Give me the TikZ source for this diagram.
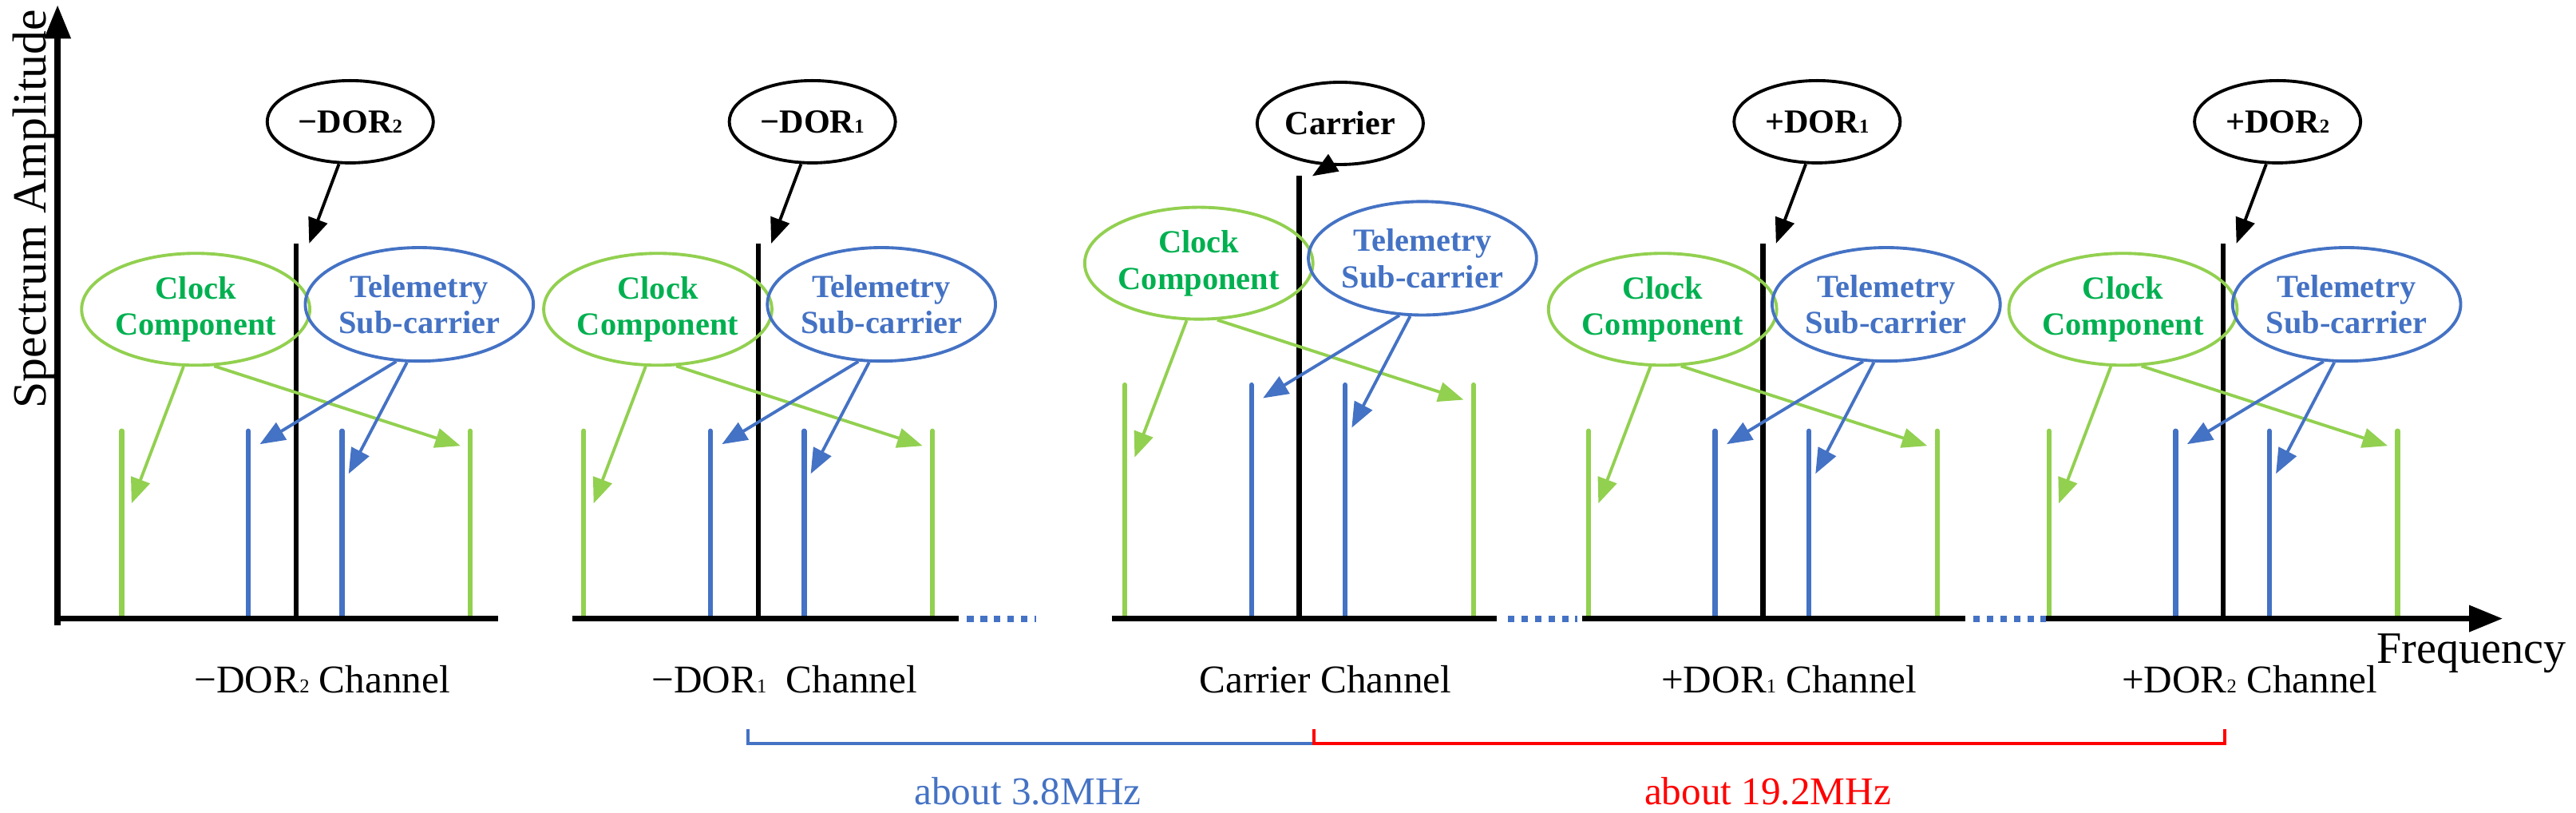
\documentclass[tikz,border=0pt]{standalone}
\usepackage{fontspec}
\setmainfont{Liberation Serif}
\usetikzlibrary{arrows.meta, shapes.geometric}

\definecolor{clkline}{RGB}{146,208,80}
\definecolor{clktext}{RGB}{0,176,80}
\definecolor{telblue}{RGB}{68,114,196}
\definecolor{spanred}{RGB}{255,0,0}

\begin{document}
\begin{tikzpicture}[x=0.0206cm, y=-0.0206cm,
    axis/.style = {line width=2.2pt, -{Triangle[length=12pt, width=9pt]}},
    base/.style = {line width=2.2pt},
    dots/.style = {telblue, line width=2.3pt, dash pattern=on 2.4pt off 2.4pt},
    peak/.style = {line width=1.8pt, line cap=round},
    pointer/.style = {line width=1.1pt, -{Triangle[length=9pt, width=7pt]}},
    bubble/.style = {ellipse, draw, line width=1.1pt, inner sep=0pt, font=\bfseries\fontsize{11.5}{13}\selectfont, align=center},
    tag/.style = {ellipse, draw, line width=1.1pt, inner sep=0pt, font=\bfseries\fontsize{12}{13}\selectfont},
    chan/.style = {font=\fontsize{14}{16}\selectfont}]
  \useasboundingbox (0,0) rectangle (1566.5,494);

  % axes
  \coordinate (o) at (35,380);
  \coordinate (ytop) at (35,3);
  \draw[axis] (o) -- (ytop);
  \node[rotate=90, font=\fontsize{17}{20}\selectfont] (ylab) at (21,127) {Spectrum Amplitude};

  % five channels
  \foreach \n/\cx/\dy/\bt/\lx/\ly/\lab/\chan in {
      a/180/0/148/33/74/{−DOR{\scriptsize 2}}/{−DOR{\scriptsize 2} Channel},
      b/461/0/148/33/74/{−DOR{\scriptsize 1}}/{−DOR{\scriptsize 1}\ \ Channel},
      c/790/28/107/25/75/{Carrier}/{Carrier Channel},
      d/1072/0/148/33/74/{+DOR{\scriptsize 1}}/{+DOR{\scriptsize 1} Channel},
      e/1352/0/148/33/74/{+DOR{\scriptsize 2}}/{+DOR{\scriptsize 2} Channel}}
  {
    \coordinate (\n-g1b) at (\cx-106,376);
    \coordinate (\n-g1) at (\cx-106,262-\dy);
    \coordinate (\n-b1b) at (\cx-29,376);
    \coordinate (\n-b1) at (\cx-29,262-\dy);
    \coordinate (\n-kb) at (\cx,376);
    \coordinate (\n-k) at (\cx,\bt);
    \coordinate (\n-b2b) at (\cx+28,376);
    \coordinate (\n-b2) at (\cx+28,262-\dy);
    \coordinate (\n-g2b) at (\cx+106,376);
    \coordinate (\n-g2) at (\cx+106,262-\dy);
    \draw[peak, clkline] (\n-g1b) -- (\n-g1) (\n-g2b) -- (\n-g2);
    \draw[peak, telblue] (\n-b1b) -- (\n-b1) (\n-b2b) -- (\n-b2);
    \draw[line width=1.8pt] (\n-kb) -- (\n-k);

    \node[tag, minimum width=101*0.0206cm, minimum height=50*0.0206cm] (\n-tag) at (\cx+\lx,\ly) {\lab};
    \node[bubble, clkline, text=clktext, minimum width=118*0.0206cm, minimum height=68*0.0206cm] (\n-clk) at (\cx-61,188-\dy) {Clock\\Component};
    \node[bubble, telblue, minimum width=117*0.0206cm, minimum height=69*0.0206cm] (\n-tel) at (\cx+75,185-\dy) {Telemetry\\Sub-carrier};

    \coordinate (\n-kp) at (\cx+8,\bt);
    \coordinate (\n-c1) at (\cx-100,306-\dy);
    \coordinate (\n-c2) at (\cx+100,271-\dy);
    \coordinate (\n-t1) at (\cx-22,270-\dy);
    \coordinate (\n-t2) at (\cx+32,288-\dy);
    \draw[pointer] (\n-tag.-105) -- (\n-kp);
    \draw[pointer, clkline] (\n-clk.-102) -- (\n-c1);
    \draw[pointer, clkline] (\n-clk.-72) -- (\n-c2);
    \draw[pointer, telblue] (\n-tel.-112) -- (\n-t1);
    \draw[pointer, telblue] (\n-tel.-102) -- (\n-t2);

    \node[chan] (\n-chan) at (\cx+16,413) {\chan};
  }

  % frequency axis pieces
  \coordinate (s1) at (35,376);   \coordinate (e1) at (303,376);
  \coordinate (s2) at (348,376);  \coordinate (e2) at (583,376);
  \coordinate (s3) at (676,376);  \coordinate (e3) at (910,376);
  \coordinate (s4) at (962,376);  \coordinate (e4) at (1195,376);
  \coordinate (s5) at (1244,376); \coordinate (e5) at (1522,376);
  \draw[base] (s1) -- (e1) (s2) -- (e2) (s3) -- (e3) (s4) -- (e4);
  \draw[axis] (s5) -- (e5);
  \draw[dots] (e2) ++(5,0) -- ++(42,0);
  \draw[dots] (e3) ++(7,0) -- ++(42,0);
  \draw[dots] (e4) ++(5,0) -- ++(44,0);
  \node[font=\fontsize{16}{18}\selectfont] (freq) at (1503,397) {Frequency};

  % spacing brackets
  \coordinate (p1) at (455,443);
  \coordinate (p2) at (799,443);
  \coordinate (p3) at (1353,443);
  \draw[telblue, line width=1.2pt] (p1) |- (p2 |- 0,452) -- (p2);
  \draw[spanred, line width=1.2pt] (p2) |- (p3 |- 0,452) -- (p3);
  \node[text=telblue, font=\fontsize{14}{16}\selectfont] (gap1) at (625,481) {about 3.8MHz};
  \node[text=spanred, font=\fontsize{14}{16}\selectfont] (gap2) at (1075,481) {about 19.2MHz};
\end{tikzpicture}
\end{document}
